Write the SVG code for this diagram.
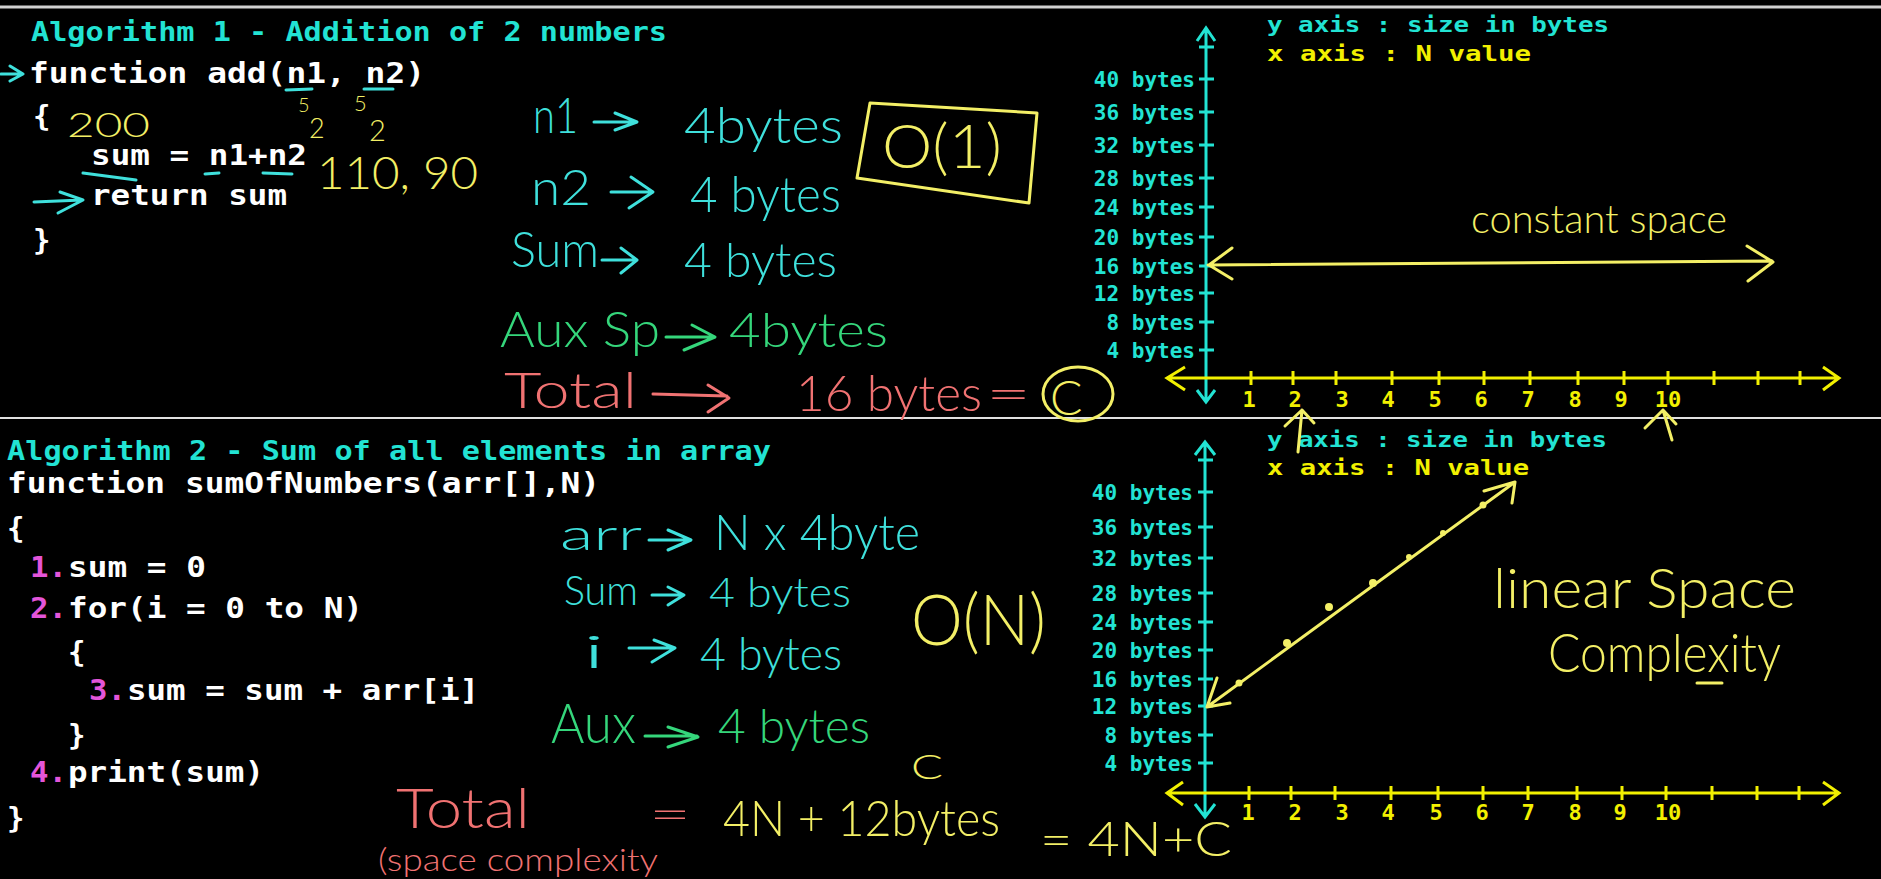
<svg xmlns="http://www.w3.org/2000/svg" width="1881" height="879" viewBox="0 0 1881 879">
<style>
.mono{font-family:"DejaVu Sans Mono","Liberation Mono",monospace;font-weight:bold}
.title{font-size:27px;fill:#22e3d3}
.code{font-size:29px;fill:#ffffff}
.num{font-size:29px;fill:#e455d9}
.ylab{font-size:21px;fill:#22e3d3;text-anchor:end}
.xlab{font-size:22px;fill:#f2f000;text-anchor:middle}
.axy{font-size:22px;fill:#22e3d3}
.axx{font-size:22px;fill:#f2f000}
.hand{font-family:Lato,"Open Sans","Noto Sans",sans-serif;font-weight:300}
.hc{fill:#3fe0dc}
.hg{fill:#35d67b}
.hr{fill:#f07272}
.hy{fill:#f3ef66}
.s{fill:none;stroke-width:3;stroke-linecap:round;stroke-linejoin:round}
.sc{stroke:#3fe0dc}
.sg{stroke:#35d67b}
.sr{stroke:#f07272}
.sy{stroke:#f3ef66}
.axc{fill:none;stroke:#22e3d3;stroke-width:3}
.axl{fill:none;stroke:#f2f000;stroke-width:3}
</style>
<rect width="1881" height="879" fill="#000"/>
<g id="separators">
<line x1="0" y1="7" x2="1881" y2="7" stroke="#d0d0d0" stroke-width="3"/>
<line x1="0" y1="418" x2="1881" y2="418" stroke="#e0e0e0" stroke-width="2"/>
</g>

<g id="code1" class="mono">
<text class="title" x="31" y="41" textLength="636" lengthAdjust="spacingAndGlyphs">Algorithm 1 - Addition of 2 numbers</text>
<text class="code" x="29" y="83" textLength="396" lengthAdjust="spacingAndGlyphs">function add(n1, n2)</text>
<text class="code" x="33" y="126">{</text>
<text class="code" x="91" y="165" textLength="216" lengthAdjust="spacingAndGlyphs">sum = n1+n2</text>
<text class="code" x="91" y="205" textLength="196" lengthAdjust="spacingAndGlyphs">return sum</text>
<text class="code" x="33" y="250">}</text>
</g>

<g id="notes1">
<g class="hand hy">
<text x="67" y="137" font-size="34" textLength="83" lengthAdjust="spacingAndGlyphs">200</text>
<text font-size="24"><tspan x="298" y="112" font-size="20">5</tspan><tspan x="309" y="138" font-size="27">2</tspan></text>
<text font-size="24"><tspan x="354" y="111" font-size="22">5</tspan><tspan x="369" y="141" font-size="29">2</tspan></text>
<text x="317" y="189" font-size="46" textLength="161" lengthAdjust="spacingAndGlyphs">110, 90</text>
<text x="882" y="168" font-size="62" textLength="120" lengthAdjust="spacingAndGlyphs">O(1)</text>
<text x="1050" y="415" font-size="48">C</text>
<text x="1471" y="233" font-size="40" textLength="256" lengthAdjust="spacingAndGlyphs">constant space</text>
</g>
<g class="hand hc">
<text x="533" y="133" font-size="50" textLength="45" lengthAdjust="spacingAndGlyphs">n1</text>
<text x="684" y="143" font-size="50" textLength="159" lengthAdjust="spacingAndGlyphs">4bytes</text>
<text x="531" y="205" font-size="50" textLength="60" lengthAdjust="spacingAndGlyphs">n2</text>
<text x="690" y="212" font-size="50" textLength="151" lengthAdjust="spacingAndGlyphs">4 bytes</text>
<text x="511" y="267" font-size="50" textLength="88" lengthAdjust="spacingAndGlyphs">Sum</text>
<text x="684" y="277" font-size="48" textLength="153" lengthAdjust="spacingAndGlyphs">4 bytes</text>
</g>
<g class="hand hg">
<text x="500" y="347" font-size="50" textLength="160" lengthAdjust="spacingAndGlyphs">Aux Sp</text>
<text x="729" y="347" font-size="48" textLength="159" lengthAdjust="spacingAndGlyphs">4bytes</text>
</g>
<g class="hand hr">
<text x="504" y="408" font-size="50" textLength="133" lengthAdjust="spacingAndGlyphs">Total</text>
<text x="796" y="411" font-size="50" textLength="186" lengthAdjust="spacingAndGlyphs">16 bytes</text>
<text x="986" y="410" font-size="48" textLength="45" lengthAdjust="spacingAndGlyphs">=</text>
</g>
<path class="s sy" d="M870,103 L1037,113 L1029,203 L857,178 Z"/>
<ellipse class="s sy" cx="1078" cy="394" rx="35" ry="27"/>
</g>

<g id="graph1">
<path class="axc" d="M1206,28 V402 M1197,41 L1206,28 L1215,41 M1197,390 L1206,402 L1215,390 M1199,47 H1214 M1199,79 H1214 M1199,112 H1214 M1199,145 H1214 M1199,178 H1214 M1199,207 H1214 M1199,237 H1214 M1199,266 H1214 M1199,293 H1214 M1199,322 H1214 M1199,350 H1214"/>
<path class="axl" d="M1167,378 H1839 M1185,367 L1167,378 L1185,390 M1823,367 L1839,378 L1823,390 M1251,371 V385 M1293,371 V385 M1336,371 V385 M1392,371 V385 M1439,371 V385 M1484,371 V385 M1530,371 V385 M1578,371 V385 M1624,371 V385 M1668,371 V385 M1714,371 V385 M1758,371 V385 M1800,371 V385"/>
<g class="mono">
<text class="axy" x="1267" y="32" textLength="342" lengthAdjust="spacingAndGlyphs">y axis : size in bytes</text>
<text class="axx" x="1267" y="61" textLength="264" lengthAdjust="spacingAndGlyphs">x axis : N value</text>
<text class="ylab" x="1195" y="87">40 bytes</text>
<text class="ylab" x="1195" y="120">36 bytes</text>
<text class="ylab" x="1195" y="153">32 bytes</text>
<text class="ylab" x="1195" y="186">28 bytes</text>
<text class="ylab" x="1195" y="215">24 bytes</text>
<text class="ylab" x="1195" y="245">20 bytes</text>
<text class="ylab" x="1195" y="274">16 bytes</text>
<text class="ylab" x="1195" y="301">12 bytes</text>
<text class="ylab" x="1195" y="330">8 bytes</text>
<text class="ylab" x="1195" y="358">4 bytes</text>
<text class="xlab" x="1249" y="407">1</text>
<text class="xlab" x="1295" y="407">2</text>
<text class="xlab" x="1342" y="407">3</text>
<text class="xlab" x="1388" y="407">4</text>
<text class="xlab" x="1435" y="407">5</text>
<text class="xlab" x="1481" y="407">6</text>
<text class="xlab" x="1528" y="407">7</text>
<text class="xlab" x="1575" y="407">8</text>
<text class="xlab" x="1621" y="407">9</text>
<text class="xlab" x="1668" y="407">10</text>
</g>
<path class="s sy" d="M1208,265 L1772,261 M1232,248 L1209,265 L1232,279 M1747,246 L1773,262 L1748,281"/>
</g>

<g id="code2" class="mono">
<text class="title" x="7" y="460" textLength="764" lengthAdjust="spacingAndGlyphs">Algorithm 2 - Sum of all elements in array</text>
<text class="code" x="7" y="493" textLength="593" lengthAdjust="spacingAndGlyphs">function sumOfNumbers(arr[],N)</text>
<text class="code" x="7" y="538">{</text>
<text class="num" x="30" y="577" textLength="37" lengthAdjust="spacingAndGlyphs">1.</text>
<text class="code" x="68" y="577" textLength="138" lengthAdjust="spacingAndGlyphs">sum = 0</text>
<text class="num" x="30" y="618" textLength="37" lengthAdjust="spacingAndGlyphs">2.</text>
<text class="code" x="68" y="618" textLength="295" lengthAdjust="spacingAndGlyphs">for(i = 0 to N)</text>
<text class="code" x="68" y="662">{</text>
<text class="num" x="89" y="700" textLength="37" lengthAdjust="spacingAndGlyphs">3.</text>
<text class="code" x="127" y="700" textLength="352" lengthAdjust="spacingAndGlyphs">sum = sum + arr[i]</text>
<text class="code" x="68" y="745">}</text>
<text class="num" x="30" y="782" textLength="37" lengthAdjust="spacingAndGlyphs">4.</text>
<text class="code" x="68" y="782" textLength="196" lengthAdjust="spacingAndGlyphs">print(sum)</text>
<text class="code" x="7" y="828">}</text>
</g>

<g id="notes2">
<g class="hand hc">
<text x="560" y="550" font-size="44" textLength="82" lengthAdjust="spacingAndGlyphs">arr</text>
<text x="714" y="550" font-size="50" textLength="206" lengthAdjust="spacingAndGlyphs">N x 4byte</text>
<text x="564" y="605" font-size="42" textLength="74" lengthAdjust="spacingAndGlyphs">Sum</text>
<text x="709" y="607" font-size="42" textLength="142" lengthAdjust="spacingAndGlyphs">4 bytes</text>
<text x="582" y="668" font-size="46" textLength="24" lengthAdjust="spacingAndGlyphs">i</text>
<text x="700" y="670" font-size="46" textLength="142" lengthAdjust="spacingAndGlyphs">4 bytes</text>
</g>
<g class="hand hg">
<text x="551" y="743" font-size="56" textLength="85" lengthAdjust="spacingAndGlyphs">Aux</text>
<text x="718" y="743" font-size="48" textLength="152" lengthAdjust="spacingAndGlyphs">4 bytes</text>
</g>
<g class="hand hr">
<text x="396" y="828" font-size="56" textLength="134" lengthAdjust="spacingAndGlyphs">Total</text>
<text x="378" y="871" font-size="31" textLength="280" lengthAdjust="spacingAndGlyphs">(space complexity</text>
<text x="649" y="830" font-size="44" textLength="42" lengthAdjust="spacingAndGlyphs">=</text>
</g>
<g class="hand hy">
<text x="911" y="645" font-size="70" textLength="135" lengthAdjust="spacingAndGlyphs">O(N)</text>
<text x="911" y="779" font-size="34" textLength="32" lengthAdjust="spacingAndGlyphs">C</text>
<text x="723" y="836" font-size="50" textLength="277" lengthAdjust="spacingAndGlyphs">4N + 12bytes</text>
<text x="1040" y="856" font-size="48" textLength="192" lengthAdjust="spacingAndGlyphs">= 4N+C</text>
<text x="1493" y="608" font-size="56" textLength="303" lengthAdjust="spacingAndGlyphs">linear Space</text>
<text x="1548" y="672" font-size="54" textLength="233" lengthAdjust="spacingAndGlyphs">Complexity</text>
</g>
</g>

<g id="graph2">
<path class="axc" d="M1205,442 V817 M1195,455 L1205,442 L1215,455 M1195,804 L1205,817 L1215,804 M1198,460 H1213 M1198,492 H1213 M1198,527 H1213 M1198,558 H1213 M1198,593 H1213 M1198,622 H1213 M1198,650 H1213 M1198,679 H1213 M1198,706 H1213 M1198,735 H1213 M1198,763 H1213"/>
<path class="axl" d="M1167,793 H1839 M1183,782 L1167,793 L1183,805 M1823,782 L1839,793 L1823,805 M1249,786 V800 M1291,786 V800 M1335,786 V800 M1391,786 V800 M1438,786 V800 M1483,786 V800 M1528,786 V800 M1577,786 V800 M1622,786 V800 M1666,786 V800 M1712,786 V800 M1757,786 V800 M1799,786 V800"/>
<g class="mono">
<text class="axy" x="1267" y="447" textLength="340" lengthAdjust="spacingAndGlyphs">y axis : size in bytes</text>
<text class="axx" x="1267" y="475" textLength="262" lengthAdjust="spacingAndGlyphs">x axis : N value</text>
<text class="ylab" x="1193" y="500">40 bytes</text>
<text class="ylab" x="1193" y="535">36 bytes</text>
<text class="ylab" x="1193" y="566">32 bytes</text>
<text class="ylab" x="1193" y="601">28 bytes</text>
<text class="ylab" x="1193" y="630">24 bytes</text>
<text class="ylab" x="1193" y="658">20 bytes</text>
<text class="ylab" x="1193" y="687">16 bytes</text>
<text class="ylab" x="1193" y="714">12 bytes</text>
<text class="ylab" x="1193" y="743">8 bytes</text>
<text class="ylab" x="1193" y="771">4 bytes</text>
<text class="xlab" x="1248" y="820">1</text>
<text class="xlab" x="1295" y="820">2</text>
<text class="xlab" x="1342" y="820">3</text>
<text class="xlab" x="1388" y="820">4</text>
<text class="xlab" x="1436" y="820">5</text>
<text class="xlab" x="1482" y="820">6</text>
<text class="xlab" x="1528" y="820">7</text>
<text class="xlab" x="1575" y="820">8</text>
<text class="xlab" x="1620" y="820">9</text>
<text class="xlab" x="1668" y="820">10</text>
</g>
<path class="s sy" d="M1207,707 L1515,482 M1217,678 L1207,707 L1230,703 M1484,491 L1515,482 L1512,503 M1697,683 L1722,683"/>
<g fill="#f3ef66">
<circle cx="1239" cy="683" r="3.5"/>
<circle cx="1287" cy="643" r="4"/>
<circle cx="1329" cy="607" r="4"/>
<circle cx="1373" cy="583" r="4"/>
<circle cx="1409" cy="557" r="3"/>
<circle cx="1443" cy="533" r="3"/>
<circle cx="1483" cy="505" r="3.5"/>
</g>
</g>

<g id="connectors">
<path class="s sc" d="M1,74 L22,74 M10,66 L23,74 L10,81"/>
<path class="s sc" d="M34,202 L82,200 M60,192 L83,200 L58,213"/>
<path class="s sc" d="M286,90 L312,89 M364,89 L393,89 M83,173 L136,180 M205,174 L219,173 M263,173 L292,174"/>
<path class="s sc" d="M594,122 L636,122 M615,113 L637,122 L615,130"/>
<path class="s sc" d="M611,192 L652,192 M631,177 L653,192 L629,208"/>
<path class="s sc" d="M602,260 L636,260 M621,248 L637,260 L621,273"/>
<path class="s sg" d="M666,337 L713,337 M692,325 L715,337 L684,350"/>
<path class="s sr" d="M653,394 L727,396 M708,385 L729,398 L708,412"/>
<path class="s sc" d="M649,540 L690,540 M668,530 L691,540 L668,550"/>
<path class="s sc" d="M652,595 L683,595 M668,587 L684,595 L668,605"/>
<path class="s sc" d="M629,648 L674,648 M654,640 L675,648 L652,662"/>
<path class="s sg" d="M645,736 L697,736 M668,727 L698,737 L668,747"/>
<path class="s sy" d="M1298,452 L1302,410 M1285,426 L1302,410 L1314,423"/>
<path class="s sy" d="M1672,440 L1663,410 M1645,428 L1663,410 L1676,424"/>
</g>
</svg>
